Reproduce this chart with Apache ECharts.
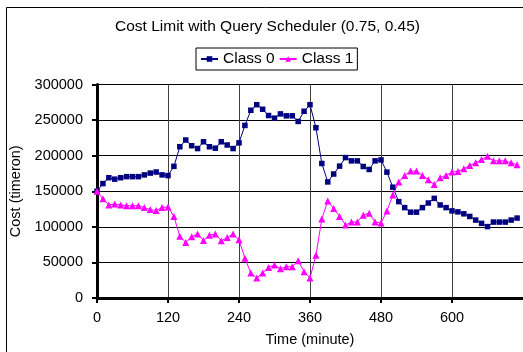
<!DOCTYPE html>
<html><head><meta charset="utf-8">
<script src="https://cdn.jsdelivr.net/npm/echarts@6/dist/echarts.min.js"></script>
<style>html,body{margin:0;padding:0;background:#fff}#c{width:523px;height:352px}</style>
</head><body><div id="c"></div>
<script>
const minutes = [0,10,20,30,40,50,60,70,80,90,100,110,120,130,140,150,160,170,180,190,200,210,220,230,240,250,260,270,280,290,300,310,320,330,340,350,360,370,380,390,400,410,420,430,440,450,460,470,480,490,500,510,520,530,540,550,560,570,580,590,600,610,620,630,640,650,660,670,680,690,700,710];
const class0 = [150000,160800,169000,167000,169000,170500,170500,170500,173000,175500,177000,173000,172000,185000,212500,222000,214000,210000,219500,212500,210500,219500,215000,210000,218000,242500,263800,271600,265200,256400,252700,258700,256000,256000,248100,262400,271600,239300,189000,163100,174200,185300,197300,192700,192700,184800,180600,192700,194000,176900,155700,135400,127000,120600,120600,127000,133500,140000,130700,127000,122400,121000,118300,114600,109500,104900,100300,106700,106700,106700,109500,112300];
const class1 = [150000,139500,130700,132100,130700,129800,129800,129800,127000,124300,122900,127000,128000,114600,86900,78100,85900,90100,80900,88200,90100,80400,85000,90000,81800,55900,35100,28200,35100,43000,46200,41100,43900,43900,52200,37000,28200,60100,110900,136300,125700,114600,102600,106700,106700,116400,119200,106700,105300,122400,144600,163100,172300,178300,178300,172300,166300,159400,169100,172300,176900,177900,181600,186200,189900,194500,199100,192700,192700,192700,189900,187100];
const seriesNames = ['Class 0','Class 1'];
const titleText = 'Cost Limit with Query Scheduler (0.75, 0.45)';
const xName = 'Time (minute)';
const yName = 'Cost (timeron)';

const font = 'Liberation Sans, Arial, sans-serif';
const chart = echarts.init(document.getElementById('c'), null, {renderer:'canvas'});
chart.setOption({
  animation:false,
  backgroundColor:'#fff',
  title:{text:titleText,left:115,top:19,padding:0,textStyle:{fontFamily:font,fontSize:15.5,fontWeight:'normal',color:'#000'}},
  legend:{data:seriesNames,left:196,top:48,itemWidth:17,itemHeight:7,itemGap:4,padding:[3,4,3,4],
    borderColor:'#000',borderWidth:1,textStyle:{fontFamily:font,fontSize:15.5,color:'#000'}},
  graphic:[{type:'rect',shape:{x:6.5,y:7.5,width:700,height:400},style:{fill:'none',stroke:'#000',lineWidth:1},silent:true,z:-1}],
  grid:{left:97,top:84.5,width:427,height:216.5,containLabel:false},
  xAxis:{type:'value',min:0,max:720,interval:120,name:xName,nameLocation:'middle',nameGap:34,
    nameTextStyle:{fontFamily:font,fontSize:14.5,color:'#000'},
    axisLine:{onZero:false,lineStyle:{color:'#000',width:3}},
    axisTick:{show:true,length:5,lineStyle:{color:'#000',width:2}},
    axisLabel:{margin:12,fontFamily:font,fontSize:14.5,color:'#000',showMaxLabel:false},
    splitLine:{show:true,lineStyle:{color:'#404040',width:1}}},
  yAxis:{type:'value',min:0,max:300000,interval:50000,name:yName,nameLocation:'middle',nameGap:64,
    nameTextStyle:{fontFamily:font,fontSize:14.5,color:'#000'},
    axisLine:{show:true,lineStyle:{color:'#000',width:3}},
    axisTick:{show:true,length:5,lineStyle:{color:'#000',width:2}},
    axisLabel:{margin:14,fontFamily:font,fontSize:14.5,color:'#000',formatter:v=>String(v)},
    splitLine:{show:true,lineStyle:{color:'#000',width:1}}},
  series:[
    {name:seriesNames[0],type:'line',data:minutes.map((m,i)=>[m,class0[i]]),symbol:'rect',symbolSize:5.5,
      lineStyle:{color:'#000080',width:1},itemStyle:{color:'#000080'},showAllSymbol:true},
    {name:seriesNames[1],type:'line',data:minutes.map((m,i)=>[m,class1[i]]),symbol:'triangle',symbolSize:7,
      lineStyle:{color:'#FF00FF',width:1},itemStyle:{color:'#FF00FF'},showAllSymbol:true}
  ]
});
</script></body></html>
